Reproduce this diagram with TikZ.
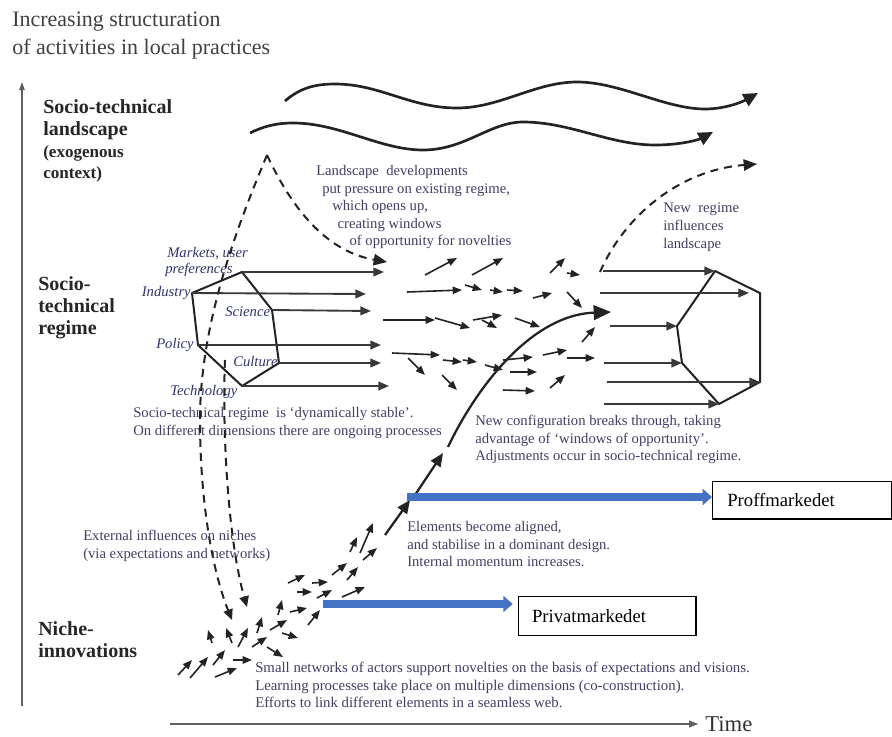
\documentclass[tikz,border=0pt]{standalone}
\usepackage{fontspec}
\setmainfont{Liberation Serif}
\usetikzlibrary{arrows.meta}

\definecolor{txtcol}{RGB}{70,60,100}
\definecolor{lblcol}{RGB}{48,52,110}
\definecolor{mktblue}{RGB}{68,114,196}
\definecolor{linecol}{RGB}{35,35,35}
\definecolor{axiscol}{RGB}{95,95,95}

\tikzset{
  wave/.style={line width=2pt, draw=linecol, -{Triangle[length=11pt,width=10pt]}},
  regarr/.style={line width=1.4pt, draw=linecol!90, -{Triangle[length=8pt,width=6.5pt]}},
  swarm/.style={line width=1.2pt, draw=linecol, -{Triangle[length=7pt,width=5.5pt]}},
  dashline/.style={line width=1.5pt, draw=linecol, dash pattern=on 6pt off 4.5pt},
  hexa/.style={line width=1.5pt, draw=linecol, line join=round},
  mainarr/.style={line width=1.7pt, draw=linecol, -{Triangle[length=10pt,width=8.5pt]}},
  desc/.style={inner sep=0pt, anchor=north west, align=left, text=txtcol, font=\fontsize{11}{13.2}\selectfont},
  dimlbl/.style={inner sep=0pt, text=lblcol, font=\fontsize{11}{13}\selectfont\itshape},
  levellbl/.style={inner sep=0pt, anchor=north west, align=left, text=black!85, font=\fontsize{15}{16.8}\selectfont\bfseries},
  mktbox/.style={draw=black, line width=1pt, inner ysep=0pt, anchor=north west, align=left, font=\fontsize{14}{16}\selectfont},
  blueflow/.style={line width=6pt, draw=mktblue, -{Triangle[length=7pt,width=12pt]}},
}

\begin{document}
\begin{tikzpicture}[x=0.75pt,y=0.75pt,yscale=-1,xscale=1]
\fill[white] (0,0) rectangle (892,736);
\useasboundingbox (0,0) rectangle (892,736);

% Title
\node (title) [inner sep=0pt, anchor=north west, align=left, text=black!75, font=\fontsize{16.5}{20.5}\selectfont] at (12,12) {Increasing structuration\\of activities in local practices};

% Axes
\node (time) [inner sep=0pt, anchor=west, text=black!80, font=\fontsize{17}{20}\selectfont] at (705,724) {Time};
\coordinate (t0) at (170,724);
\draw [line width=1.3pt, draw=axiscol, -{Triangle[length=7pt,width=5pt]}] (t0) -- ([xshift=-5pt]time.west);
\coordinate (v0) at (22,706);
\coordinate (v1) at (22,82);
\draw [line width=0.9pt, draw=axiscol, -{Triangle[length=6pt,width=4pt]}] (v0) -- (v1);

% Level labels
\node (lsc) [levellbl] at (43,99) {Socio-technical\\landscape};
\node (lscx) [levellbl, font=\fontsize{12.8}{15.8}\selectfont\bfseries] at (43,145) {(exogenous\\context)};
\node (reg) [levellbl] at (38,276) {Socio-\\technical\\regime};
\node (nic) [levellbl] at (38,621) {Niche-\\innovations};

%Curve Lines (landscape)
\coordinate (w1s) at (285,101);
\coordinate (w1e) at (758,93);
\draw [wave] (w1s) .. controls (300,88) and (315,84) .. (335,84)
  .. controls (380,84) and (410,108) .. (457,108)
  .. controls (500,108) and (535,82) .. (577,82)
  .. controls (620,82) and (665,109) .. (705,109)
  .. controls (725,109) and (742,102) .. (w1e);
\coordinate (w2s) at (250,133);
\coordinate (w2e) at (713,132);
\draw [wave] (w2s) .. controls (262,127) and (275,123) .. (293,123)
  .. controls (340,123) and (380,150) .. (423,150)
  .. controls (465,150) and (490,122) .. (523,122)
  .. controls (570,122) and (610,145) .. (655,145)
  .. controls (680,145) and (698,140) .. (w2e);

% Text Node
\node (land) [desc] at (316,165) {Landscape \ developments\\\hspace*{4.5pt}put pressure on existing regime,\\\hspace*{12pt}which opens up,\\\hspace*{16pt}creating windows\\\hspace*{25pt}of opportunity for novelties};

% Dimension labels
\node (lmk) [dimlbl, anchor=west] at (167,254) {Markets, user};
\node (lmk2) [dimlbl, anchor=west] at (165,270) {preferences};
\node (lind) [dimlbl, anchor=east] at (191,293) {Industry};
\node (lsci) [dimlbl, anchor=west] at (225,312) {Science};
\node (lpol) [dimlbl, anchor=east] at (194,345) {Policy};
\node (lcul) [dimlbl, anchor=west] at (233,361) {Culture};
\node (ltec) [dimlbl, anchor=west] at (170,392) {Technology};

% Regime hexagon
\coordinate (mk) at (242,272);
\coordinate (sc) at (272,310);
\coordinate (cu) at (279,363);
\coordinate (te) at (242,386);
\coordinate (po) at (198,345);
\coordinate (ind) at (192,293);
\draw [hexa] (mk) -- (sc) -- (cu) -- (te) -- (po) -- (ind) -- cycle;

%Straight Lines (regime dimensions)
\coordinate (mkE) at (384,272);
\coordinate (indE) at (366,294);
\coordinate (scE) at (371,311);
\coordinate (poE) at (381,345);
\coordinate (cuE) at (381,363);
\coordinate (teE) at (389,386);
\draw [regarr] (mk) -- (mkE);
\draw [regarr] (ind) -- (indE);
\draw [regarr] (sc) -- (scE);
\draw [regarr] (po) -- (poE);
\draw [regarr] (cu) -- (cuE);
\draw [regarr] (te) -- (teE);

% Text Node
\node (stable) [desc] at (133,407) {Socio-technical regime \ is `dynamically stable'.\\On different dimensions there are ongoing processes};

% Dashed influences
\coordinate (peak) at (267,155);
\coordinate (ex1) at (232,620);
\coordinate (ex2s) at (225,360);
\coordinate (ex2) at (247,607);
\coordinate (win) at (387,262);
\draw [dashline, -{Triangle[length=8pt,width=7pt]}] (peak) .. controls (240,220) and (200,320) .. (200,420) .. controls (200,500) and (212,570) .. (ex1);
\draw [dashline, -{Triangle[length=8pt,width=7pt]}] (ex2s) .. controls (222,430) and (228,540) .. (ex2);
\draw [dashline, -{Triangle[length=10pt,width=8.5pt]}] (peak) .. controls (295,215) and (330,252) .. (win);

% Swarm in the regime
\foreach \xa/\ya/\xb/\yb in {425/275/457/258, 472/275/503/258, 407/292/462/290, 465/285/482/290,
  490/290/503/292, 507/290/523/291, 533/298/552/293, 550/273/565/258, 567/273/580/275,
  567/292/582/308, 383/320/435/320, 435/318/470/328, 473/320/502/315, 482/320/497/328,
  515/318/540/327, 392/353/440/355, 443/360/462/362, 463/360/477/362, 485/365/503/370,
  503/360/533/357, 510/372/537/372, 543/355/567/350, 567/358/595/358, 503/390/535/391,
  550/388/565/375, 408/358/425/375, 442/375/457/390, 582/342/595/327}
  \draw [swarm] (\xa,\ya) -- (\xb,\yb);

% Swarm in the niches
\foreach \xa/\ya/\xb/\yb in {178/675/192/660, 190/678/208/657, 213/665/225/650, 215/677/237/668,
  233/660/252/660, 212/643/208/630, 232/643/226/628, 238/647/248/628, 252/647/267/637,
  267/647/283/657, 257/633/262/617, 270/630/287/620, 282/633/298/638, 278/615/282/600,
  290/612/307/608, 308/625/320/610, 297/592/312/592, 288/583/305/575, 312/583/328/582,
  317/598/332/590, 342/597/365/587, 332/575/347/563, 347/580/358/567, 350/552/357/537,
  360/553/373/523, 363/560/377/548}
  \draw [swarm] (\xa,\ya) -- (\xb,\yb);

% Breakthrough
\coordinate (nb0) at (385,535);
\coordinate (nb1) at (410,500);
\coordinate (nb2) at (415,495);
\coordinate (nb3) at (443,453);
\coordinate (nb4) at (448,447);
\coordinate (brk) at (611,312);
\draw [mainarr] (nb0) -- (nb1);
\draw [mainarr] (nb2) -- (nb3);
\draw [mainarr, -{Triangle[length=13pt,width=11pt]}] (nb4) .. controls (475,390) and (530,315) .. (brk);

% Text Node
\node (newconf) [desc] at (475,415) {New configuration breaks through, taking\\advantage of `windows of opportunity'.\\Adjustments occur in socio-technical regime.};
\node (elem) [desc] at (407,521) {Elements become aligned,\\and stabilise in a dominant design.\\Internal momentum increases.};
\node (ext) [desc] at (83,530) {External influences on niches\\(via expectations and networks)};
\node (small) [desc, font=\fontsize{11.1}{13.2}\selectfont] at (255,662) {Small networks of actors support novelties on the basis of expectations and visions.\\Learning processes take place on multiple dimensions (co-construction).\\Efforts to link different elements in a seamless web.};

% New regime hexagon
\coordinate (r1) at (715,271);
\coordinate (r2) at (760,293);
\coordinate (r3) at (760,382);
\coordinate (r4) at (719,404);
\coordinate (r5) at (682,363);
\coordinate (r6) at (677,326);
\draw [hexa] (r1) -- (r2) -- (r3) -- (r4) -- (r5) -- (r6) -- cycle;
\coordinate (q1) at (603,271);
\coordinate (q2) at (600,293);
\coordinate (q2e) at (749,293);
\coordinate (q3) at (610,326);
\coordinate (q4) at (604,363);
\coordinate (q5) at (607,382);
\coordinate (q6) at (604,404);
\draw [regarr] (q1) -- (r1);
\draw [regarr] (q2) -- (q2e);
\draw [regarr] (q3) -- (r6);
\draw [regarr] (q4) -- (r5);
\draw [regarr] (q5) -- (r3);
\draw [regarr] (q6) -- (r4);

% New regime influences landscape
\coordinate (nr0) at (600,272);
\coordinate (nr1) at (757,164);
\draw [dashline, -{Triangle[length=10pt,width=8.5pt]}] (nr0) .. controls (625,215) and (680,170) .. (nr1);
\node (newreg) [desc] at (663,203) {New \ regime\\influences\\landscape};

% Markets
\node (prof) [mktbox, inner xsep=11pt, text width=112pt, minimum height=28pt] at (712,481) {Proffmarkedet};
\node (priv) [mktbox, inner xsep=10pt, text width=113pt, minimum height=29pt] at (518,596) {Privatmarkedet};
\coordinate (pf0) at (407,497);
\coordinate (pv0) at (323,604);
\draw [blueflow] (pf0) -- (pf0 -| prof.west);
\draw [blueflow] (pv0) -- ([xshift=-4pt]pv0 -| priv.west);

\end{tikzpicture}
\end{document}
